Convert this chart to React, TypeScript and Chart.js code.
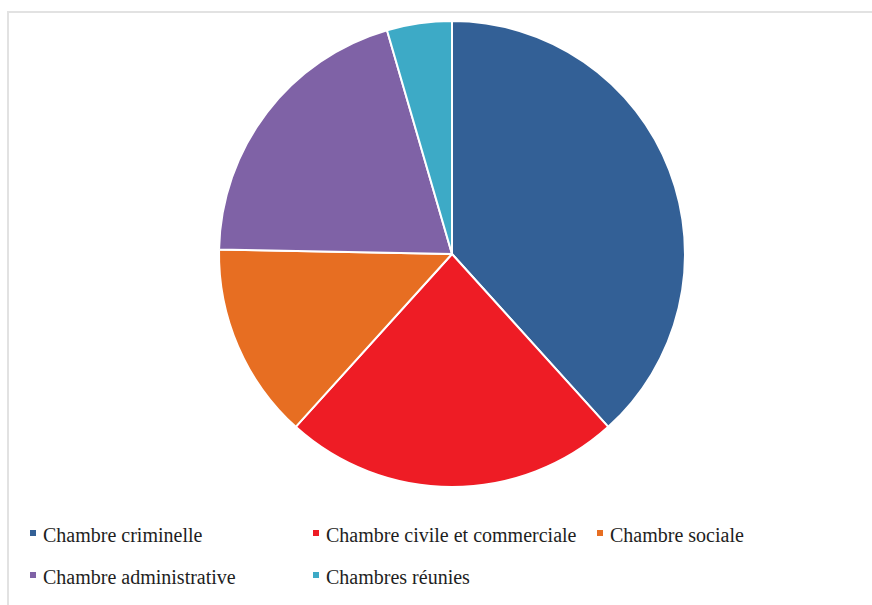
import React, { useEffect, useRef } from "react";
import { Chart, registerables } from "chart.js";

Chart.register(...registerables);

const categories = [
  "Chambre criminelle",
  "Chambre civile et commerciale",
  "Chambre sociale",
  "Chambre administrative",
  "Chambres réunies",
];
const values = [38.3, 23.4, 13.6, 20.2, 4.5];
const colors = ["#336096", "#ee1c25", "#e76e22", "#7f62a6", "#3daac6"];

export default function App() {
  const ref = useRef<HTMLCanvasElement | null>(null);

  useEffect(() => {
    if (!ref.current) return;
    const chart = new Chart(ref.current, {
      type: "pie",
      data: {
        labels: categories,
        datasets: [
          {
            data: values,
            backgroundColor: colors,
            borderColor: "#ffffff",
            borderWidth: 2,
          },
        ],
      },
      options: {
        responsive: false,
        animation: false,
        devicePixelRatio: 1,
        radius: 233,
        layout: { padding: { left: 32, top: 0, right: 0, bottom: 2 } },
        plugins: {
          legend: { display: false },
          tooltip: { enabled: false },
        },
      },
    });
    return () => chart.destroy();
  }, []);

  return (
    <div>
      <div
        style={{
          position: "absolute",
          left: 7,
          top: 11,
          width: 865,
          height: 594,
          boxSizing: "border-box",
          borderTop: "2px solid #e2e2e2",
          borderLeft: "2px solid #e2e2e2",
        }}
      />
      <canvas
        ref={ref}
        width={872}
        height={510}
        style={{ position: "absolute", left: 0, top: 0, width: 872, height: 510 }}
      />
      <div
        style={{
          position: "absolute",
          left: 30,
          top: 522,
          display: "grid",
          gridTemplateColumns: "283px 284px auto",
          gridAutoRows: "42px",
          fontFamily: "'Liberation Serif', 'Times New Roman', serif",
          fontSize: 20,
          color: "#1e1e1e",
          whiteSpace: "nowrap",
        }}
      >
        {categories.map((c, i) => (
          <div key={c} style={{ position: "relative", paddingLeft: 13, lineHeight: "26px" }}>
            <span
              style={{
                position: "absolute",
                left: 0,
                top: 8,
                width: 6,
                height: 6,
                background: colors[i],
              }}
            />
            {c}
          </div>
        ))}
      </div>
    </div>
  );
}
